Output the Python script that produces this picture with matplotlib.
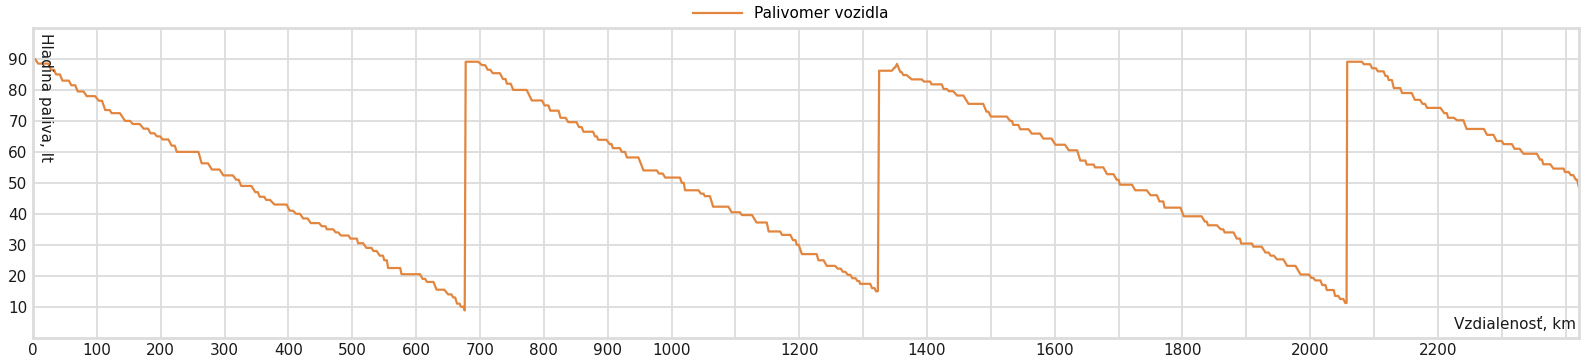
import matplotlib
matplotlib.use("Agg")
import matplotlib.pyplot as plt

# flat segments of the fuel gauge: start km, end km, level (lt)
start_km = [0, 8, 28, 36, 46, 60, 70, 84, 103, 113, 123, 144, 156, 173, 184, 194, 203, 217, 225, 264,
            280, 298, 318, 326, 348, 355, 365, 378, 402, 412, 423, 435, 452, 460, 474, 482, 497, 509,
            522, 533, 543, 550, 556, 577, 610, 617, 632, 650, 658, 664, 670, 676,
            677.5, 703, 712, 720, 736, 742, 752, 781, 801, 810, 826, 838, 855, 862, 880, 885, 903, 908,
            922, 930, 956, 980, 990, 1016, 1021, 1046, 1052, 1065, 1094, 1110, 1133, 1152, 1173, 1190,
            1196, 1204, 1230, 1243, 1260, 1268, 1276, 1283, 1291, 1295, 1314, 1320,
            1325, 1349, 1353, 1358, 1363, 1376, 1395, 1407, 1426, 1434, 1447, 1465, 1493, 1500, 1530,
            1535, 1546, 1564, 1582, 1601, 1622, 1640, 1650, 1663, 1682, 1697, 1702, 1726, 1750, 1764,
            1772, 1802, 1835, 1840, 1860, 1866, 1885, 1892, 1911, 1930, 1938, 1948, 1964, 1985, 2002,
            2008, 2019, 2026, 2039, 2047, 2055,
            2058, 2084, 2097, 2106, 2118, 2123, 2131, 2144, 2164, 2176, 2183, 2210, 2216, 2230, 2245,
            2277, 2292, 2303, 2320, 2334, 2360, 2365, 2381, 2399, 2408, 2416, 2421]
end_km = [3, 24, 33, 42, 56, 66, 79, 97, 108, 120, 136, 152, 167, 180, 190, 199, 212, 222, 259, 274,
          292, 313, 322, 342, 352, 362, 371, 397, 407, 418, 430, 448, 458, 470, 478, 494, 507, 517,
          530, 538, 548, 554, 575, 606, 614, 627, 644, 655, 661, 668, 674, 676,
          697, 708, 716, 731, 740, 748, 773, 797, 807, 823, 834, 851, 859, 877, 883, 898, 906, 919,
          927, 948, 977, 986, 1013, 1019, 1042, 1050, 1060, 1089, 1107, 1126, 1149, 1170, 1186, 1194,
          1199, 1227, 1238, 1256, 1265, 1272, 1280, 1288, 1294, 1311, 1318, 1323,
          1345, 1350, 1353, 1360, 1368, 1392, 1405, 1423, 1431, 1441, 1457, 1488, 1496, 1525, 1533,
          1543, 1559, 1577, 1595, 1616, 1635, 1648, 1661, 1676, 1692, 1700, 1721, 1744, 1760, 1770,
          1797, 1830, 1838, 1854, 1864, 1880, 1890, 1909, 1924, 1935, 1943, 1958, 1977, 1998, 2005,
          2016, 2024, 2037, 2044, 2052, 2057,
          2081, 2094, 2103, 2115, 2121, 2128, 2141, 2159, 2172, 2180, 2204, 2214, 2225, 2240, 2272,
          2287, 2300, 2316, 2328, 2355, 2363, 2376, 2397, 2405, 2412, 2418, 2421]
level = [90, 88.5, 86.5, 85, 83, 81.5, 79.5, 78, 76.5, 73.5, 72.5, 70, 69, 67.5, 66, 65, 64, 62, 60, 56.3,
         54.3, 52.4, 51, 49, 47, 45.5, 44.5, 43, 41, 40, 38.5, 37, 36, 35, 34, 33, 32, 30.5,
         29, 28, 26.5, 25, 22.5, 20.5, 19, 18, 15.5, 14, 13, 11, 10, 8.8,
         89.1, 88, 86.5, 85.4, 83.5, 82, 80, 76.6, 75, 73.3, 71, 69.6, 68, 66.5, 65, 63.9, 62.5, 61.2,
         60, 58.2, 54, 53, 51.7, 50, 47.6, 46.5, 45.7, 42.3, 40.5, 39.6, 37.2, 34.3, 33.2, 31.5,
         30, 27, 25, 23.2, 22.3, 21.3, 20.3, 19.2, 18.3, 17.4, 16, 15,
         86.2, 87.2, 88.4, 85.8, 84.8, 83.4, 82.7, 81.8, 80.3, 79.6, 78.2, 75.5, 73, 71.4, 70,
         68.7, 67.3, 65.9, 64.3, 62.3, 60.5, 57.2, 55.9, 55, 52.8, 51, 49.4, 47.6, 46, 44,
         42, 39.2, 37.5, 36.3, 35, 34, 32, 30.4, 29.4, 27.5, 26.5, 25.3, 23.2, 20.4, 19.3,
         18.5, 17, 15.4, 13.5, 12.5, 11.2,
         89.1, 88.3, 87, 86, 84.5, 83.2, 80.6, 79, 76.8, 75.5, 74.2, 72.5, 71, 70.2, 67.4,
         65.5, 63.5, 62.5, 61, 59.4, 57.5, 56, 54.6, 53.5, 52.5, 51, 48.5]

x_labels = {v: str(v) for v in list(range(0, 1001, 100)) + list(range(1200, 2201, 200))}

xs, ys = [], []
for a, b, v in zip(start_km, end_km, level):
    xs += [a, b]
    ys += [v, v]

fig = plt.figure(figsize=(15.82, 3.61), dpi=100)
ax = fig.add_axes([0.0209, 0.0645, 0.9772, 0.858])

line, = ax.plot(xs, ys, color="#E2863F", lw=1.6, label="Palivomer vozidla")

ax.set_xlim(0, 2421)
ax.set_ylim(0, 100)
xt = list(range(0, 2401, 100))
ax.set_xticks(xt)
ax.set_xticklabels([x_labels.get(v, "") for v in xt])
ax.set_yticks(range(10, 91, 10))
ax.tick_params(length=0, labelsize=11, pad=4, colors="#1a1a1a")
ax.grid(True, color="#dcdcdc", lw=1.3)
ax.set_axisbelow(True)
for s in ax.spines.values():
    s.set_color("#dcdcdc")
    s.set_linewidth(2)

ax.text(0.003, 0.985, "Hladina paliva, lt", transform=ax.transAxes, rotation=270,
        ha="left", va="top", fontsize=11, color="#1a1a1a")
ax.text(0.998, 0.02, "Vzdialenosť, km", transform=ax.transAxes,
        ha="right", va="bottom", fontsize=11, color="#1a1a1a")

fig.legend(handles=[line], loc="center", bbox_to_anchor=(0.5, 0.962), frameon=False,
           fontsize=11, handlelength=3.2)

fig.savefig("out.png", dpi=100)
